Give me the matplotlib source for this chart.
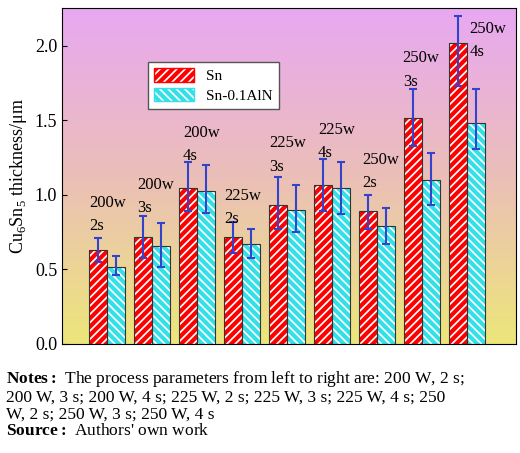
import numpy as np
import matplotlib
matplotlib.use("Agg")
import matplotlib.pyplot as plt
from matplotlib.colors import LinearSegmentedColormap

plt.rcParams["font.family"] = ["Liberation Serif", "DejaVu Serif"]
plt.rcParams["mathtext.fontset"] = "custom"
plt.rcParams["mathtext.rm"] = "Liberation Serif"
plt.rcParams["mathtext.bf"] = "Liberation Serif:bold"
plt.rcParams["hatch.linewidth"] = 3.0

groups = np.arange(1, 10)
sn = [0.63, 0.72, 1.05, 0.72, 0.93, 1.07, 0.89, 1.52, 2.02]
sn_hi = [0.71, 0.86, 1.22, 0.82, 1.12, 1.24, 1.00, 1.71, 2.20]
sn_lo = [0.55, 0.58, 0.89, 0.61, 0.77, 0.89, 0.77, 1.33, 1.73]
aln = [0.52, 0.66, 1.03, 0.67, 0.90, 1.05, 0.79, 1.10, 1.48]
aln_hi = [0.59, 0.81, 1.20, 0.77, 1.07, 1.22, 0.91, 1.28, 1.71]
aln_lo = [0.46, 0.52, 0.88, 0.58, 0.75, 0.87, 0.67, 0.93, 1.31]
labels = ["200w\n2s", "200w\n3s", "200w\n4s", "225w\n2s", "225w\n3s",
          "225w\n4s", "250w\n2s", "250w\n3s", "250w\n4s"]
label_x = [0.6, 1.67, 2.69, 3.62, 4.6, 5.69, 6.67, 7.58, 9.07]
label_y = [1.00, 1.12, 1.47, 1.05, 1.40, 1.49, 1.29, 1.97, 2.17]

fig = plt.figure(figsize=(5.2, 4.53), dpi=100)
ax = fig.add_axes([62 / 520, 109 / 453, 454 / 520, 336 / 453])

ymax = 2.255
cmap = LinearSegmentedColormap.from_list("bg", ["#ede67a", "#ebbfb8", "#e8a8f2"])
grad = np.linspace(0, 1, 256).reshape(-1, 1)
ax.imshow(grad, cmap=cmap, aspect="auto", extent=(0, 10.1, 0, ymax),
          origin="lower", zorder=0)

w = 0.4
sn = np.array(sn); aln = np.array(aln)
ax.bar(groups - w / 2, sn, w, color="white", edgecolor="red", hatch="////",
       linewidth=0, zorder=2)
ax.bar(groups - w / 2, sn, w, color="none", edgecolor="#333333", linewidth=0.8, zorder=3)
ax.bar(groups + w / 2, aln, w, color="white", edgecolor="#33e0e8", hatch="\\\\\\\\",
       linewidth=0, zorder=2)
ax.bar(groups + w / 2, aln, w, color="none", edgecolor="#333333", linewidth=0.8, zorder=3)
ax.errorbar(groups - w / 2, sn, yerr=[sn - np.array(sn_lo), np.array(sn_hi) - sn],
            fmt="none", ecolor="#3344cc", elinewidth=1.5, capsize=3, capthick=1.5, zorder=4)
ax.errorbar(groups + w / 2, aln, yerr=[aln - np.array(aln_lo), np.array(aln_hi) - aln],
            fmt="none", ecolor="#3344cc", elinewidth=1.5, capsize=3, capthick=1.5, zorder=4)

for x, y, t in zip(label_x, label_y, labels):
    ax.text(x, y, t, fontsize=12, ha="left", va="top", linespacing=1.6, zorder=5)

ax.set_xlim(0, 10.1)
ax.set_ylim(0, ymax)
ax.set_xticks([])
ax.set_yticks([0.0, 0.5, 1.0, 1.5, 2.0])
ax.tick_params(axis="y", labelsize=13, direction="in")
ax.set_ylabel("Cu$_6$Sn$_5$ thickness/μm", fontsize=13)

h = [plt.Rectangle((0, 0), 1, 1, facecolor="white", edgecolor="red", hatch="////"),
     plt.Rectangle((0, 0), 1, 1, facecolor="white", edgecolor="#33e0e8", hatch="\\\\\\\\")]
ax.legend(h, ["Sn", "Sn-0.1AlN"], loc="upper left", bbox_to_anchor=(0.19, 0.84),
          borderaxespad=0, fontsize=11, fancybox=False, framealpha=1,
          edgecolor="#555555", handlelength=2.6, handleheight=1.0, labelspacing=0.3)

fig.text(0.012, 0.185, r"$\bf{Notes:}$ The process parameters from left to right are: 200 W, 2 s;"
         "\n200 W, 3 s; 200 W, 4 s; 225 W, 2 s; 225 W, 3 s; 225 W, 4 s; 250"
         "\nW, 2 s; 250 W, 3 s; 250 W, 4 s"
         "\n" r"$\bf{Source:}$ Authors' own work",
         fontsize=12.5, va="top", linespacing=1.05)

fig.savefig("out.png", dpi=100)
